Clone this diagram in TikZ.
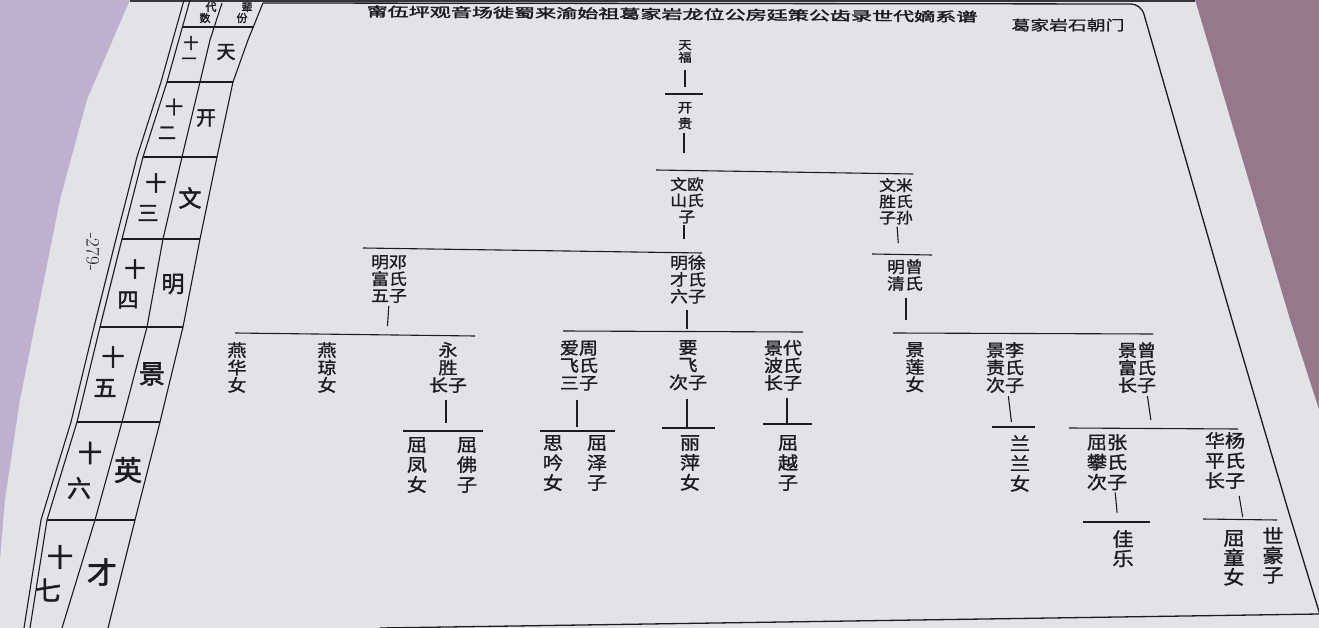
\documentclass[tikz,border=0pt]{standalone}
\usepackage{fontspec}
\newfontfamily\cjk[FakeStretch=1.12, FakeBold=1.2]{Noto Sans CJK SC}
\newfontfamily\cjkb[FakeBold=2]{Noto Sans CJK SC}

\definecolor{ink}{RGB}{28,28,30}
\definecolor{paper}{RGB}{226,227,231}
\definecolor{cloth}{RGB}{192,176,208}
\definecolor{clothdk}{RGB}{150,120,140}
\definecolor{shadow}{RGB}{55,52,56}

\begin{document}
\begin{tikzpicture}[x=1pt, y=-1pt,
  nm/.style={align=center, anchor=north, inner sep=0pt, text=ink},
  p11/.style={nm, font=\cjk\fontsize{12}{12.5}\selectfont},
  p12/.style={nm, font=\cjk\fontsize{13}{16}\selectfont},
  p13/.style={nm, font=\cjk\fontsize{15}{16.2}\selectfont},
  p14/.style={nm, font=\cjk\fontsize{16}{16.8}\selectfont},
  p15/.style={nm, font=\cjk\fontsize{17}{17.5}\selectfont},
  p16/.style={nm, font=\cjk\fontsize{18}{20}\selectfont},
  p17/.style={nm, font=\cjk\fontsize{19}{19.5}\selectfont},
  ln/.style={draw=ink, line width=1.1pt},
  frm/.style={draw=ink, line width=1.3pt},
  tab/.style={inner sep=0pt, text=ink}
]
\useasboundingbox (0,0) rectangle (1319,628);
\clip (0,0) rectangle (1319,628);

% photo: cloth and page
\fill[cloth] (0,0) rectangle (1319,628);
\fill[clothdk] (1195,0) -- (1319,0) -- (1319,410) -- (1290,320) -- cycle;
\fill[paper] (130,0) -- (1195,0) -- (1290,320) -- (1319,410) -- (1319,628) -- (0,628)
  -- (0,560) -- (5,500) -- (20,400) -- (40,300) -- (60,200) -- (87,100) -- cycle;
\fill[shadow] (130,0) rectangle (1195,2.5);

% frame
\draw[frm, rounded corners=10pt] (263,3) -- (1141,4) -- (1232,320) -- (1288,510) -- (1324,628);
\draw[frm] (380,628) -- (1319,614);

% generation table
\draw[ln] (184,0) -- (161,82) -- (137,157) -- (116,239) -- (94,327) -- (71,422) -- (41,520) -- (24,628);
\draw[ln] (190,0) -- (167,82) -- (143,157) -- (122,239) -- (100,327) -- (77,422) -- (47,520) -- (30,628);
\draw[ln] (222,3) -- (210,40) -- (200,82) -- (182,157) -- (163,239) -- (147,327) -- (122,422) -- (95,520) -- (62,628);
\draw[ln] (263,3) -- (248,40) -- (233,82) -- (217,157) -- (200,239) -- (183,327) -- (160,422) -- (135,520) -- (108,628);
\foreach \y/\a/\b in {27/182/253, 82/167/233, 157/143/217, 239/122/200,
                      327/100/183, 422/77/160, 520/47/135}
  \draw[ln] (\a,\y) -- (\b,\y);
\foreach \x/\y/\s/\t [count=\i] in {211/7/11/代, 205/18/11/数, 247/7/11/辈, 242/18/11/份,
    191/43/15/十, 189/61/15/一, 226/52/19/天,
    174/107/18/十, 167/133/18/二, 206/118/20/开,
    156/183/21/十, 148/213/21/三, 190/198/23/文,
    135/269/21/十, 128/300/21/四, 173/284/23/明,
    113/357/23/十, 105/388/23/五, 152/374/26/景,
    90/453/24/十, 79/488/24/六, 128/470/28/英,
    60/557/26/十, 48/590/26/七, 102/572/30/才}
  \node[tab, font=\cjkb\fontsize{\s}{\s}\selectfont] (c\i) at (\x,\y) {\t};
\node[rotate=-90, text=ink, font=\fontsize{19}{19}\selectfont] (pg) at (93,252) {-279-};

% headings
\node[text=ink, font=\cjkb\fontsize{13}{13}\selectfont, rotate=-0.5] (title) at (672,14)
  {\scalebox{1.62}[1]{甯伍坪观音场徙蜀来渝始祖葛家岩龙位公房廷策公齿录世代嫡系谱}};
\node[text=ink, font=\cjk\fontsize{14}{14}\selectfont] (gate) at (1068,25)
  {\scalebox{1.2}[1]{葛家岩石朝门}};

% persons
\node[p11] (tf)  at (685,40)  {天\\福};
\node[p12] (kg)  at (685,102) {开\\贵};
\node[p13] (ws)  at (687,177) {文欧\\山氏\\子};
\node[p13] (wsh) at (896,178) {文米\\胜氏\\子孙};
\node[p14] (mf)  at (389,255) {明邓\\富氏\\五子};
\node[p14] (mc)  at (688,255) {明徐\\才氏\\六子};
\node[p14] (mq)  at (905,259) {明曾\\清氏};
\node[p15] (yh)  at (237,342) {燕\\华\\女};
\node[p15] (yq)  at (327,342) {燕\\琼\\女};
\node[p15] (ys)  at (448,342) {永\\胜\\长子};
\node[p15] (af)  at (579,340) {爱周\\飞氏\\三子};
\node[p15] (yf)  at (688,340) {要\\飞\\次子};
\node[p15] (jb)  at (783,340) {景代\\波氏\\长子};
\node[p15] (jl)  at (915,342) {景\\莲\\女};
\node[p15] (jz)  at (1005,342) {景李\\责氏\\次子};
\node[p15] (jf)  at (1137,342) {景曾\\富氏\\长子};
\node[p16] (qf)  at (417,437) {屈\\凤\\女};
\node[p16] (qfo) at (467,437) {屈\\佛\\子};
\node[p16] (sy)  at (553,435) {思\\吟\\女};
\node[p16] (qz)  at (597,435) {屈\\泽\\子};
\node[p16] (lp)  at (690,435) {丽\\萍\\女};
\node[p16] (qy)  at (788,435) {屈\\越\\子};
\node[p16] (ll)  at (1020,435) {兰\\兰\\女};
\node[p16] (qp)  at (1107,434) {屈张\\攀氏\\次子};
\node[p16] (hp)  at (1225,432) {华杨\\平氏\\长子};
\node[p17] (jle) at (1123,530) {佳\\乐};
\node[p17] (qt)  at (1234,530) {屈\\童\\女};
\node[p17] (sh)  at (1273,527) {世\\豪\\子};

% sibling bars
\coordinate (tf-l)  at (665,94);   \coordinate (tf-r)  at (703,94);
\coordinate (kg-l)  at (656,170);  \coordinate (kg-r)  at (913,174);
\coordinate (ws-l)  at (363,248);  \coordinate (ws-r)  at (702,253);
\coordinate (wsh-l) at (872,254);  \coordinate (wsh-r) at (932,255);
\coordinate (mf-l)  at (235,333);  \coordinate (mf-r)  at (475,336);
\coordinate (mc-l)  at (563,331);  \coordinate (mc-r)  at (803,332);
\coordinate (mq-l)  at (893,333);  \coordinate (mq-r)  at (1153,334);
\coordinate (ys-l)  at (403,431);  \coordinate (ys-r)  at (483,431);
\coordinate (af-l)  at (540,431);  \coordinate (af-r)  at (615,431);
\coordinate (yf-l)  at (662,428);  \coordinate (yf-r)  at (715,428);
\coordinate (jb-l)  at (763,424);  \coordinate (jb-r)  at (812,424);
\coordinate (jz-l)  at (992,427);  \coordinate (jz-r)  at (1035,427);
\coordinate (jf-l)  at (1069,428); \coordinate (jf-r)  at (1238,429);
\coordinate (qp-l)  at (1083,522); \coordinate (qp-r)  at (1150,522);
\coordinate (hp-l)  at (1203,519); \coordinate (hp-r)  at (1277,520);
\foreach \p in {tf, kg, ws, wsh, mf, mc, mq, ys, af, yf, jb, jz, jf, qp, hp}
  \draw[ln] (\p-l) -- (\p-r);

% descent lines
\draw[ln, shorten <=7pt, shorten >=7pt]  (tf.south) -- (tf.south |- tf-l);
\draw[ln, shorten <=3pt, shorten >=17pt] ([xshift=-1pt]kg.south) -- ([xshift=-1pt]kg.south |- kg-l);
\draw[ln, shorten <=1pt, shorten >=9pt]  ([xshift=-3pt]ws.south) -- ([xshift=-3pt]ws.south |- ws-l);
\draw[ln, shorten <=2pt, shorten >=11pt] ([xshift=1pt]wsh.south) -- ([xshift=3pt]wsh.south |- wsh-l);
\draw[ln, shorten <=3pt, shorten >=7pt]  (mf.south) -- ([xshift=-2pt]mf.south |- mf-l);
\draw[ln, shorten <=6pt, shorten >=2pt]  ([xshift=-1pt]mc.south) -- ([xshift=-1pt]mc.south |- mc-l);
\draw[ln, shorten <=7pt, shorten >=13pt] ([xshift=1pt]mq.south) -- ([xshift=1pt]mq.south |- mq-l);
\draw[ln, shorten <=7pt, shorten >=8pt]  ([xshift=-2pt]ys.south) -- ([xshift=-2pt]ys.south |- ys-l);
\draw[ln, shorten <=9pt, shorten >=4pt]  ([xshift=-2pt]af.south) -- ([xshift=-2pt]af.south |- af-l);
\draw[ln, shorten <=9pt, shorten >=1pt]  ([xshift=-1pt]yf.south) -- ([xshift=-1pt]yf.south |- yf-l);
\draw[ln, shorten <=7pt, shorten >=1pt]  ([xshift=4pt]jb.south) -- ([xshift=4pt]jb.south |- jb-l);
\draw[ln, shorten <=3pt, shorten >=5pt]  ([xshift=3pt]jz.south) -- ([xshift=7pt]jz.south |- jz-l);
\draw[ln, shorten <=3pt, shorten >=8pt]  ([xshift=10pt]jf.south) -- ([xshift=15pt]jf.south |- jf-l);
\draw[ln, shorten <=2pt, shorten >=9pt]  ([xshift=8pt]qp.south) -- ([xshift=11pt]qp.south |- qp-l);
\draw[ln, shorten <=7pt, shorten >=2pt]  ([xshift=13pt]hp.south) -- ([xshift=18pt]hp.south |- hp-l);
\end{tikzpicture}
\end{document}
